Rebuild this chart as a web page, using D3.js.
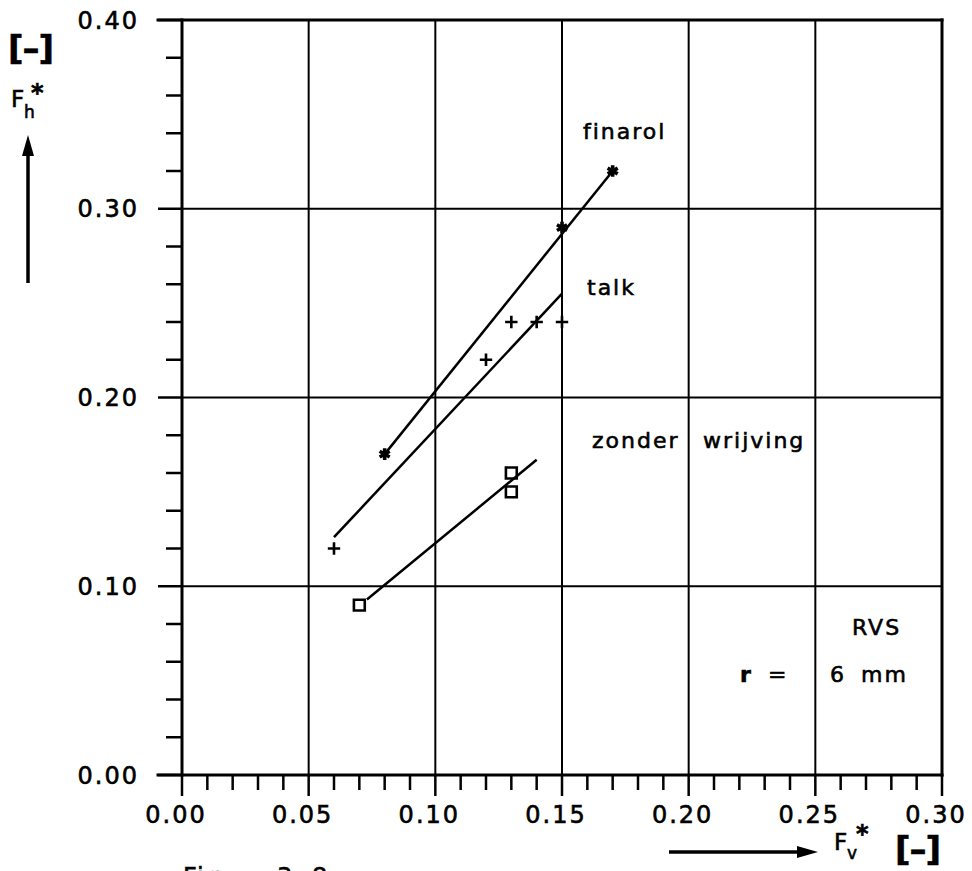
<!DOCTYPE html>
<html>
<head>
<meta charset="utf-8">
<script src="https://cdn.jsdelivr.net/npm/d3@7"></script>
<style>
  html, body { margin: 0; padding: 0; background: #fff; }
  svg { display: block; }
  text { font-family: "DejaVu Sans", sans-serif; fill: #000; stroke: #000; stroke-width: 0.6px; }
</style>
</head>
<body>
<svg id="chart" width="972" height="871"></svg>
<script>
// Measured series: horizontal force F_h* against vertical force F_v*
const finarolFv = [0.08, 0.15, 0.17];
const finarolFh = [0.17, 0.29, 0.32];
const talkFv = [0.06, 0.12, 0.13, 0.14, 0.15];
const talkFh = [0.12, 0.22, 0.24, 0.24, 0.24];
const zonderFv = [0.07, 0.13, 0.13];
const zonderFh = [0.09, 0.16, 0.15];

// Fitted lines (start and end points)
const finarolFit = [[0.08, 0.17], [0.17, 0.32]];
const talkFit = [[0.06, 0.126], [0.15, 0.255]];
const zonderFit = [[0.073, 0.093], [0.14, 0.167]];

// Axis ticks and labels
const xMajor = [0.00, 0.05, 0.10, 0.15, 0.20, 0.25, 0.30];
const xLabels = ["0.00", "0.05", "0.10", "0.15", "0.20", "0.25", "0.30"];
const yMajor = [0.00, 0.10, 0.20, 0.30, 0.40];
const yLabels = ["0.00", "0.10", "0.20", "0.30", "0.40"];

(function () {
const svg = d3.select("#chart");
const pLeft = 182, pRight = 942, pTop = 20, pBottom = 775;

const x = d3.scaleLinear().domain([0, 0.30]).range([pLeft, pRight]);
const y = d3.scaleLinear().domain([0, 0.40]).range([pBottom, pTop]);

const xMinor = d3.range(0, 31).map(i => i / 100).filter(v => !xMajor.some(m => Math.abs(m - v) < 1e-9));
const yMinor = d3.range(0, 21).map(i => i / 50).filter(v => !yMajor.some(m => Math.abs(m - v) < 1e-9));

// Grid
const grid = svg.append("g").attr("stroke", "#000").attr("stroke-width", 2);
grid.selectAll(".vg").data(xMajor).join("line")
  .attr("x1", d => x(d)).attr("x2", d => x(d))
  .attr("y1", pTop).attr("y2", pBottom);
grid.selectAll(".hg").data(yMajor).join("line")
  .attr("x1", pLeft).attr("x2", pRight)
  .attr("y1", d => y(d)).attr("y2", d => y(d));

// Frame / axes
const axes = svg.append("g").attr("stroke", "#000").attr("stroke-width", 3).attr("stroke-linecap", "square");
axes.append("line").attr("x1", pLeft).attr("x2", pLeft).attr("y1", pTop).attr("y2", pBottom);
axes.append("line").attr("x1", pLeft - 24).attr("x2", pRight).attr("y1", pBottom).attr("y2", pBottom);
axes.append("line").attr("x1", pLeft - 24).attr("x2", pRight).attr("y1", pTop).attr("y2", pTop);
axes.append("line").attr("x1", pRight).attr("x2", pRight).attr("y1", pTop).attr("y2", pBottom);

// Ticks
const ticks = svg.append("g").attr("stroke", "#000").attr("stroke-width", 2.5);
ticks.selectAll(".xm").data(xMajor).join("line")
  .attr("x1", d => x(d)).attr("x2", d => x(d)).attr("y1", pBottom).attr("y2", pBottom + 21);
ticks.selectAll(".xn").data(xMinor).join("line")
  .attr("x1", d => x(d)).attr("x2", d => x(d)).attr("y1", pBottom).attr("y2", pBottom + 15);
ticks.selectAll(".ym").data(yMajor).join("line")
  .attr("x1", pLeft - 24).attr("x2", pLeft).attr("y1", d => y(d)).attr("y2", d => y(d));
ticks.selectAll(".yn").data(yMinor).join("line")
  .attr("x1", pLeft - 16).attr("x2", pLeft).attr("y1", d => y(d)).attr("y2", d => y(d));

// Tick labels
svg.append("g").selectAll("text").data(xMajor).join("text")
  .attr("x", d => x(d) - 6).attr("y", pBottom + 48)
  .attr("text-anchor", "middle")
  .attr("font-size", 24).attr("letter-spacing", 2)
  .text((d, i) => xLabels[i]);
svg.append("g").selectAll("text").data(yMajor).join("text")
  .attr("x", 139).attr("y", d => y(d) + 8.5)
  .attr("text-anchor", "end")
  .attr("font-size", 24).attr("letter-spacing", 2)
  .text((d, i) => yLabels[i]);

// Fit lines
const line = d3.line().x(d => x(d[0])).y(d => y(d[1]));
const fits = svg.append("g").attr("fill", "none").attr("stroke", "#000").attr("stroke-width", 2.5);
[finarolFit, talkFit, zonderFit].forEach(f => fits.append("path").attr("d", line(f)));

// Markers
function pts(fv, fh) { return fv.map((v, i) => [v, fh[i]]); }
const starSym = d3.symbol().type(d3.symbolAsterisk).size(95);
const plusSym = d3.symbol().type(d3.symbolPlus).size(52);
const sqSym = d3.symbol().type(d3.symbolSquare2).size(150);

const marks = svg.append("g").attr("fill", "none").attr("stroke", "#000");
marks.selectAll(".st").data(pts(finarolFv, finarolFh)).join("path")
  .attr("transform", d => `translate(${x(d[0])},${y(d[1])})`)
  .attr("d", starSym).attr("stroke-width", 3.6);
marks.selectAll(".pl").data(pts(talkFv, talkFh)).join("path")
  .attr("transform", d => `translate(${x(d[0])},${y(d[1])})`)
  .attr("d", plusSym).attr("stroke-width", 2.6);
marks.selectAll(".sq").data(pts(zonderFv, zonderFh)).join("path")
  .attr("transform", d => `translate(${x(d[0])},${y(d[1])})`)
  .attr("d", sqSym).attr("stroke-width", 2.6);

// Series labels
const lab = svg.append("g").attr("font-size", 22).attr("letter-spacing", 2);
lab.append("text").attr("x", 583).attr("y", 139).text("finarol");
lab.append("text").attr("x", 587).attr("y", 295).text("talk");
lab.append("text").attr("x", 592).attr("y", 448).text("zonder");
lab.append("text").attr("x", 703).attr("y", 448).text("wrijving");
lab.append("text").attr("x", 852).attr("y", 635).text("RVS");
lab.append("text").attr("x", 740).attr("y", 682).attr("font-weight", "bold").text("r");
lab.append("text").attr("x", 768).attr("y", 682).text("=");
lab.append("text").attr("x", 830).attr("y", 682).text("6");
lab.append("text").attr("x", 861).attr("y", 682).text("mm");

// Y axis title with upward arrow
const yt = svg.append("g");
yt.append("text").attr("x", 8).attr("y", 60).attr("font-size", 34).attr("font-weight", "bold").attr("letter-spacing", -1).text("[–]");
yt.append("text").attr("x", 11).attr("y", 107).attr("font-size", 23).text("F");
yt.append("text").attr("x", 24).attr("y", 118).attr("font-size", 17).text("h");
yt.append("text").attr("x", 31).attr("y", 101).attr("font-size", 24).attr("font-weight", "bold").text("*");
yt.append("line").attr("x1", 28).attr("x2", 28).attr("y1", 283).attr("y2", 150)
  .attr("stroke", "#000").attr("stroke-width", 3.5);
yt.append("path").attr("d", "M28,135 L22,156 L34,156 Z").attr("fill", "#000");

// X axis title with rightward arrow
const xt = svg.append("g");
xt.append("line").attr("x1", 669).attr("x2", 802).attr("y1", 852).attr("y2", 852)
  .attr("stroke", "#000").attr("stroke-width", 3.5);
xt.append("path").attr("d", "M818,852 L797,846 L797,858 Z").attr("fill", "#000");
xt.append("text").attr("x", 834).attr("y", 850).attr("font-size", 23).text("F");
xt.append("text").attr("x", 847).attr("y", 859).attr("font-size", 17).text("v");
xt.append("text").attr("x", 856).attr("y", 842).attr("font-size", 24).attr("font-weight", "bold").text("*");
xt.append("text").attr("x", 895).attr("y", 861).attr("font-size", 34).attr("font-weight", "bold").attr("letter-spacing", -1).text("[–]");

// Figure caption (runs off the bottom edge)
svg.append("text").attr("x", 183).attr("y", 885).attr("font-size", 24).attr("letter-spacing", 2).text("Fig.");
svg.append("text").attr("x", 277).attr("y", 885).attr("font-size", 24).attr("letter-spacing", 6).text("3.8");
})();
</script>
</body>
</html>
